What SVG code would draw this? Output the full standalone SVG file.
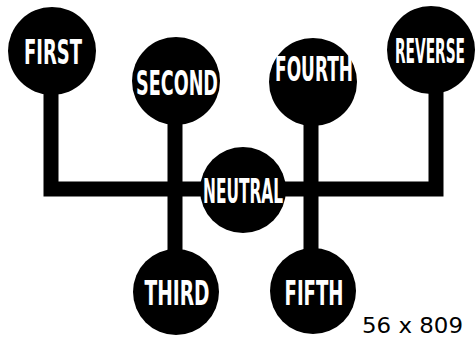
<svg xmlns="http://www.w3.org/2000/svg" width="476" height="339" viewBox="0 0 476 339">
<style>
.n{fill:#000}
.t{fill:#fff;font-family:"Liberation Sans Narrow","DejaVu Sans Condensed","Liberation Sans",sans-serif;font-weight:bold;font-size:33px;text-anchor:middle}
.c{fill:none;stroke:#000;stroke-width:15}
.cap{fill:#000;font-family:"DejaVu Sans","Liberation Sans",sans-serif;font-size:22px}
</style>
<rect width="476" height="339" fill="#fff"/>
<g id="connectors">
<path class="c" d="M51,90 V189 H436 V90"/>
<path class="c" d="M175,120 V255"/>
<path class="c" d="M311,120 V255"/>
</g>
<g id="first"><circle class="n" cx="52" cy="51" r="44"/><text class="t" x="53" y="64" textLength="58" lengthAdjust="spacingAndGlyphs">FIRST</text></g>
<g id="second"><circle class="n" cx="176" cy="81" r="44"/><text class="t" x="177" y="95" textLength="82" lengthAdjust="spacingAndGlyphs">SECOND</text></g>
<g id="fourth"><circle class="n" cx="313" cy="82" r="44"/><text class="t" x="314" y="81" textLength="78" lengthAdjust="spacingAndGlyphs">FOURTH</text></g>
<g id="reverse"><circle class="n" cx="431" cy="50" r="44"/><text class="t" x="430" y="63" textLength="70" lengthAdjust="spacingAndGlyphs">REVERSE</text></g>
<g id="neutral"><circle class="n" cx="243" cy="190" r="43"/><text class="t" x="243" y="203" textLength="80" lengthAdjust="spacingAndGlyphs">NEUTRAL</text></g>
<g id="third"><circle class="n" cx="176" cy="292" r="43"/><text class="t" x="177" y="305" textLength="65" lengthAdjust="spacingAndGlyphs">THIRD</text></g>
<g id="fifth"><circle class="n" cx="313" cy="291" r="43"/><text class="t" x="314" y="305" textLength="59" lengthAdjust="spacingAndGlyphs">FIFTH</text></g>
<text class="cap" x="362" y="333" textLength="101" lengthAdjust="spacingAndGlyphs">56 x 809</text>
</svg>
